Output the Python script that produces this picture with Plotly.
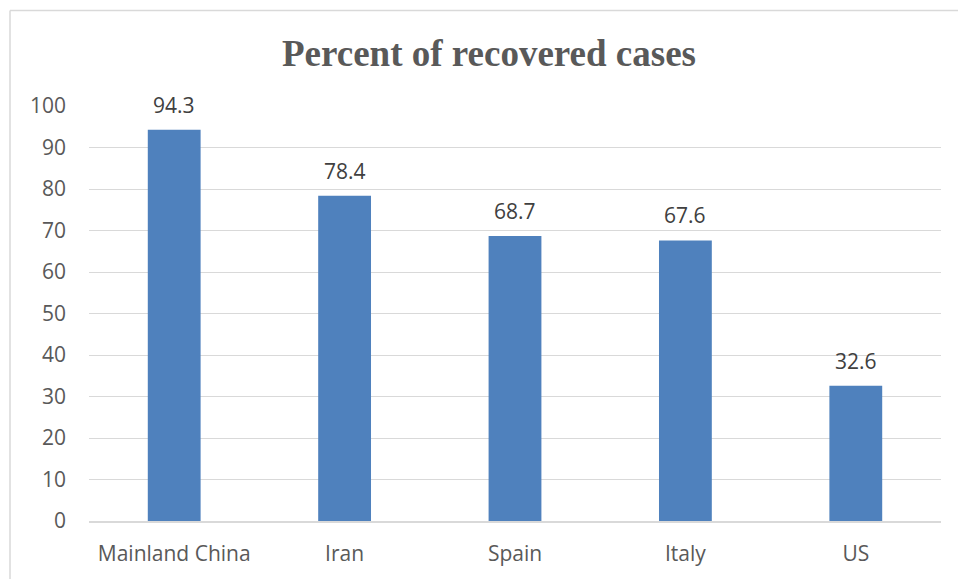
import plotly.graph_objects as go

# Recovery share by country (percent)
countries = ["Mainland China", "Iran", "Spain", "Italy", "US"]
recovered_pct = [94.3, 78.4, 68.7, 67.6, 32.6]
y_ticks = list(range(0, 101, 10))

W, H = 958, 579
L, R, T, B = 89, 17, 106, 56
plot_w = W - L - R
plot_h = H - T - B

text_color = "#595959"
grid_color = "#D9D9D9"
bar_color = "#4F81BD"
font_family = "Open Sans, Noto Sans, sans-serif"

fig = go.Figure()
fig.add_trace(go.Bar(
    x=countries,
    y=recovered_pct,
    width=0.31,
    marker=dict(color=bar_color, line=dict(width=0)),
    hoverinfo="x+y",
))

# value labels above each bar
for c, v in zip(countries, recovered_pct):
    fig.add_annotation(
        x=c, y=v, text=f"{v:.1f}", showarrow=False,
        yanchor="middle", yshift=25,
        font=dict(family=font_family, size=21, color="#404040"),
    )

# title
fig.add_annotation(
    xref="paper", yref="paper",
    x=(489 - L) / plot_w, y=1 + (T - 53) / plot_h,
    text="<b>Percent of recovered cases</b>", showarrow=False,
    xanchor="center", yanchor="middle",
    font=dict(family="Liberation Serif, Times New Roman, serif", size=37, color=text_color),
)

# chart frame (top and left edges)
x_left = (10 - L) / plot_w
y_top = 1 + (T - 10) / plot_h
fig.add_shape(type="line", xref="paper", yref="paper",
              x0=x_left, x1=(W + 5 - L) / plot_w, y0=y_top, y1=y_top,
              line=dict(color=grid_color, width=1.5))
fig.add_shape(type="line", xref="paper", yref="paper",
              x0=x_left, x1=x_left, y0=y_top, y1=-(B + 5) / plot_h,
              line=dict(color=grid_color, width=1.5))

fig.update_layout(
    width=W, height=H,
    margin=dict(l=L, r=R, t=T, b=B, pad=0),
    paper_bgcolor="white", plot_bgcolor="white",
    showlegend=False,
    bargap=0.69,
    font=dict(family=font_family, size=21, color=text_color),
)
fig.update_xaxes(
    showgrid=False, showline=True, linecolor=grid_color, linewidth=1.5,
    ticks="", ticklabelstandoff=13,
    tickfont=dict(family=font_family, size=21, color=text_color),
)
fig.update_yaxes(
    range=[0, 100], tickvals=y_ticks, showgrid=True, gridcolor=grid_color, gridwidth=1.2,
    zeroline=False, showline=False, ticks="", ticklabelstandoff=22,
    tickfont=dict(family=font_family, size=21, color=text_color),
)

fig.write_html("out.html")
